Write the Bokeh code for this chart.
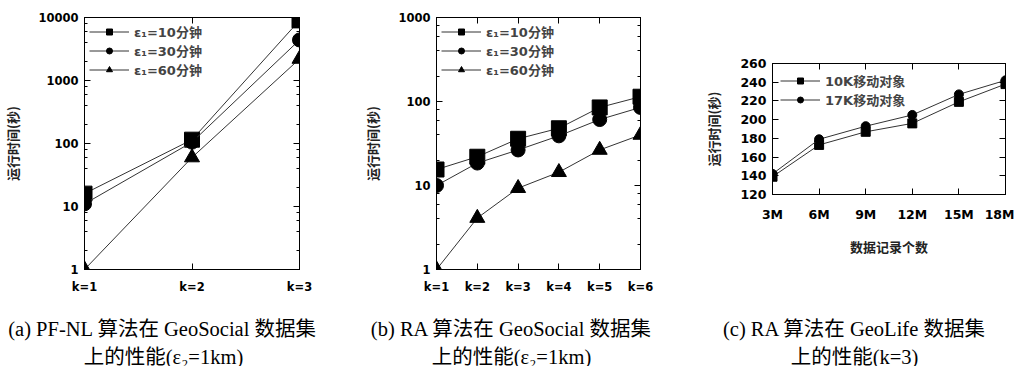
from bokeh.plotting import figure
from bokeh.models import (Range1d, LogAxis, LinearAxis, FixedTicker, LogTicker,
                          Legend, LegendItem, BasicTickFormatter, ColumnDataSource,
                          CustomJSTickFormatter)
from bokeh.layouts import row, column
from bokeh.embed import file_html
from bokeh.resources import INLINE
from bokeh.core.properties import value

# ---------------- data ----------------
a_k = [1, 2, 3]
a_labels = ["k=1", "k=2", "k=3"]
a_e10 = [16, 115, 9000]
a_e30 = [11, 105, 4400]
a_e60 = [1, 60, 2200]

b_k = [1, 2, 3, 4, 5, 6]
b_labels = ["k=1", "k=2", "k=3", "k=4", "k=5", "k=6"]
b_e10 = [15.5, 22, 36, 48, 85, 114]
b_e30 = [10, 18.5, 26.5, 39, 61, 85]
b_e60 = [1, 4.1, 9.3, 14.4, 26.5, 40]

c_n = [3, 6, 9, 12, 15, 18]
c_labels = ["3M", "6M", "9M", "12M", "15M", "18M"]
c_10k = [139, 173, 187, 196, 219, 238]
c_17k = [142, 179, 193, 205, 227, 242]

series_names = ["ε₁=10分钟", "ε₁=30分钟", "ε₁=60分钟"]
c_names = ["10K移动对象", "17K移动对象"]
y_title = "运行时间(秒)"
c_x_title = "数据记录个数"
captions_1 = ["(a) PF-NL 算法在 GeoSocial 数据集",
              "(b) RA 算法在 GeoSocial 数据集",
              "(c) RA 算法在 GeoLife 数据集"]
captions_2 = ["上的性能(ε₂=1km)", "上的性能(ε₂=1km)", "上的性能(k=3)"]

TICK_FONT = "DejaVu Sans, Noto Sans CJK SC"
CJK_FONT = "Noto Sans CJK SC"
LINE_COLOR = "#333333"
FIG_H = 296


def no_align(p):
    try:
        p.frame_align = False
    except Exception:
        pass


def style_axis(ax, label_size="11.5px", standoff=6):
    ax.major_label_text_font = TICK_FONT
    ax.major_label_text_font_style = "bold"
    ax.major_label_text_font_size = label_size
    ax.major_label_text_color = "black"
    ax.major_label_standoff = standoff
    ax.major_tick_in = 6
    ax.major_tick_out = 0
    ax.minor_tick_in = 3
    ax.minor_tick_out = 0
    ax.axis_line_color = "black"
    ax.major_tick_line_color = "black"
    ax.minor_tick_line_color = "black"


def mirror(ax):
    ax.formatter = CustomJSTickFormatter(code="return ''")
    ax.major_label_standoff = 0
    ax.major_tick_in = 6
    ax.major_tick_out = 0
    ax.minor_tick_in = 3
    ax.minor_tick_out = 0
    ax.axis_line_color = "black"


def make_log_fig(width, left, right, xs, xlabels, ymax, series):
    p = figure(width=width, height=FIG_H, min_border_left=left, min_border_right=right,
               min_border_top=17, min_border_bottom=FIG_H - 17 - 253,
               x_range=Range1d(xs[0], xs[-1]), y_range=Range1d(1, ymax),
               y_axis_type="log", output_backend="svg", toolbar_location=None)
    no_align(p)
    p.xgrid.visible = False
    p.ygrid.visible = False
    p.outline_line_color = "black"
    p.outline_line_alpha = 1
    xt = FixedTicker(ticks=xs)
    p.xaxis.ticker = xt
    p.xaxis.major_label_overrides = {x: l for x, l in zip(xs, xlabels)}
    style_axis(p.xaxis[0], standoff=10)
    p.xaxis.minor_tick_in = 0
    yt = LogTicker()
    p.yaxis.ticker = yt
    p.yaxis.formatter = BasicTickFormatter(use_scientific=False)
    style_axis(p.yaxis[0], standoff=6)
    p.yaxis.axis_label = y_title
    p.yaxis.axis_label_text_font = CJK_FONT
    p.yaxis.axis_label_text_font_style = "bold"
    p.yaxis.axis_label_text_font_size = "13px"
    p.yaxis.axis_label_text_color = "#222222"
    p.yaxis.axis_label_standoff = 13
    ra = LogAxis(ticker=yt)
    mirror(ra)
    p.add_layout(ra, "right")
    ta = LinearAxis(ticker=xt)
    mirror(ta)
    ta.minor_tick_in = 0
    p.add_layout(ta, "above")

    markers = ["square", "circle", "triangle"]
    sizes = [15, 14, 15]
    items = []
    for name, ys, m, s in zip(series_names, series, markers, sizes):
        src = ColumnDataSource(dict(x=xs, y=ys))
        l = p.line("x", "y", source=src, line_color=LINE_COLOR, line_width=1)
        sc = p.scatter("x", "y", source=src, marker=m, size=s,
                       fill_color="black", line_color="black")
        items.append(LegendItem(label=name, renderers=[l, sc]))
    leg = Legend(items=items, location="top_left", glyph_width=40, glyph_height=15,
                 spacing=-2, padding=2, margin=5, label_standoff=5,
                 label_text_font=TICK_FONT, label_text_font_style="bold",
                 label_text_font_size="13px", label_height=15,
                 background_fill_alpha=0, border_line_color=None)
    p.add_layout(leg)
    return p


fa = make_log_fig(360, 82, 61, a_k, a_labels, 10000, [a_e10, a_e30, a_e60])
fb = make_log_fig(332, 72, 52, b_k, b_labels, 1000, [b_e10, b_e30, b_e60])

# ---------------- figure (c) ----------------
fc = figure(width=322, height=FIG_H, min_border_left=80, min_border_right=9,
            min_border_top=63, min_border_bottom=FIG_H - 63 - 131,
            x_range=Range1d(c_n[0], c_n[-1]), y_range=Range1d(120, 260),
            output_backend="svg", toolbar_location=None)
no_align(fc)
fc.xgrid.visible = False
fc.ygrid.visible = False
fc.outline_line_color = "black"
cxt = FixedTicker(ticks=c_n)
cyt = FixedTicker(ticks=list(range(120, 261, 20)))
fc.xaxis.ticker = cxt
fc.xaxis.major_label_overrides = {x: l for x, l in zip(c_n, c_labels)}
style_axis(fc.xaxis[0], label_size="12.5px", standoff=12)
fc.xaxis.axis_label = c_x_title
fc.xaxis.axis_label_text_font = CJK_FONT
fc.xaxis.axis_label_text_font_style = "bold"
fc.xaxis.axis_label_text_font_size = "13px"
fc.xaxis.axis_label_text_color = "#222222"
fc.xaxis.axis_label_standoff = 12
fc.yaxis.ticker = cyt
style_axis(fc.yaxis[0], label_size="12.5px", standoff=6)
fc.yaxis.axis_label = y_title
fc.yaxis.axis_label_text_font = CJK_FONT
fc.yaxis.axis_label_text_font_style = "bold"
fc.yaxis.axis_label_text_font_size = "13px"
fc.yaxis.axis_label_text_color = "#222222"
fc.yaxis.axis_label_standoff = 14
cra = LinearAxis(ticker=cyt)
mirror(cra)
fc.add_layout(cra, "right")
cta = LinearAxis(ticker=cxt)
mirror(cta)
fc.add_layout(cta, "above")

c_items = []
for name, ys, m in zip(c_names, [c_10k, c_17k], ["square", "circle"]):
    src = ColumnDataSource(dict(x=c_n, y=ys))
    l = fc.line("x", "y", source=src, line_color=LINE_COLOR, line_width=1)
    sc = fc.scatter("x", "y", source=src, marker=m, size=9,
                    fill_color="black", line_color="black")
    c_items.append(LegendItem(label=name, renderers=[l, sc]))
cleg = Legend(items=c_items, location="top_left", glyph_width=40, glyph_height=15,
              spacing=-2, padding=2, margin=8, label_standoff=5,
              label_text_font=TICK_FONT, label_text_font_style="bold",
              label_text_font_size="13px", label_height=15,
              background_fill_alpha=0, border_line_color=None)
fc.add_layout(cleg)

# ---------------- captions ----------------
CAP_H = 70
cap = figure(width=1014, height=CAP_H, x_range=Range1d(0, 1014), y_range=Range1d(0, CAP_H),
             min_border=0, output_backend="svg", toolbar_location=None)
no_align(cap)
cap.axis.visible = False
cap.xgrid.visible = False
cap.ygrid.visible = False
cap.outline_line_color = None
cap_src1 = ColumnDataSource(dict(x=[162, 511, 854], y=[38] * 3, t=captions_1))
cap_src2 = ColumnDataSource(dict(x=[163, 511, 854], y=[10] * 3, t=captions_2))
for s in (cap_src1, cap_src2):
    cap.text("x", "y", text="t", source=s, text_align="center", text_baseline="middle",
             text_font=value("Liberation Serif, DejaVu Serif, Noto Sans CJK SC"),
             text_font_size="20.5px", text_color="black")

layout = column(row(fa, fb, fc), cap)
open("out.html", "w").write(file_html(layout, INLINE))
